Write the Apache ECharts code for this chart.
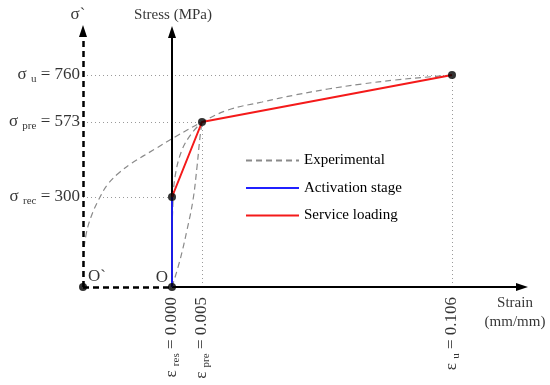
<!DOCTYPE html>
<html><head><meta charset="utf-8">
<script src="https://cdn.jsdelivr.net/npm/echarts@6/dist/echarts.min.js"></script>
<style>html,body{margin:0;padding:0;background:#fff}#c{width:550px;height:385px}</style>
</head><body><div id="c"></div>
<script>
// Schematic diagram: values are drawn at schematic positions (not to scale)
const stressSubs = ['u', 'pre', 'rec'];
const stressValues = [760, 573, 300];
const stressLevels = [212, 165, 90];      // schematic heights on the diagram
const strainSubs = ['res', 'pre', 'u'];
const strainValues = ['0.000', '0.005', '0.106'];
const strainLevels = [0, 30, 280];        // schematic positions along strain axis
const originPrimeX = -89;                 // O` (shifted origin)

// Activation stage (blue): O -> σrec
const activationX = [0, 0];
const activationY = [0, 90];
// Service loading (red): σrec -> σpre -> σu
const serviceX = [0, 30, 280];
const serviceY = [90, 165, 212];
// Experimental curves (grey dashed)
const expMonoX = [-89, -88.5, -86, -81, -73, -64, -52, -40, -17, 3, 30, 56, 90, 123, 156, 190, 223, 256, 280];
const expMonoY = [0, 30, 52, 70, 88, 103, 115, 124, 138, 150, 165, 177, 185, 192, 198, 203, 207, 210, 212];
const expReloadX = [0, 8, 15, 21, 25, 28, 30];
const expReloadY = [0, 27, 57, 87, 120, 150, 165];
const expLoadX = [0, 0, 0.8, 3, 10, 20, 30];
const expLoadY = [0, 40, 80, 110, 137, 154, 165];

const FONT = 'Liberation Serif';
const zip = (xs, ys) => xs.map((x, i) => [x, ys[i]]);
const rich = {
  g: { fontFamily: FONT, fontSize: 17, color: '#000', lineHeight: 20 },
  sub: { fontFamily: FONT, fontSize: 11, color: '#000', lineHeight: 15, verticalAlign: 'bottom' }
};
const baseLabel = { show: true, position: 'inside', fontFamily: FONT, color: '#000', rich: rich };

const labelData = [];
stressValues.forEach((v, i) => {
  labelData.push({ value: [originPrimeX - 3, stressLevels[i]],
    label: Object.assign({}, baseLabel, { align: 'right', verticalAlign: 'middle',
      formatter: '{g|σ }{sub|' + stressSubs[i] + '}{g| = ' + v + '}' }) });
});
strainValues.forEach((v, i) => {
  labelData.push({ value: [strainLevels[i], -10],
    label: Object.assign({}, baseLabel, { align: 'right', verticalAlign: 'middle', rotate: 90,
      formatter: '{g|ε }{sub|' + strainSubs[i] + '}{g| = ' + v + '}' }) });
});
const plain = (x, y, txt, align, size) => ({ value: [x, y],
  label: Object.assign({}, baseLabel, { align: align, verticalAlign: 'middle', fontSize: size, formatter: txt }) });
labelData.push(plain(originPrimeX - 5, 272, 'σ`', 'center', 17));
labelData.push(plain(1, 272, 'Stress (MPa)', 'center', 15));
labelData.push(plain(originPrimeX + 5, 10, 'O`', 'left', 17));
labelData.push(plain(-4, 9, 'O', 'right', 17));
labelData.push(plain(343, -16, 'Strain', 'center', 15));
labelData.push(plain(343, -35, '(mm/mm)', 'center', 15));

const guides = [];
stressLevels.forEach((lv, i) => {
  const px = serviceX[serviceY.indexOf(lv)];
  guides.push([{ coord: [originPrimeX, lv] }, { coord: [px, lv] }]);
});
strainLevels.forEach((sx, i) => {
  if (sx === 0) return;
  const py = serviceY[serviceX.indexOf(sx)];
  guides.push([{ coord: [sx, 0] }, { coord: [sx, py] }]);
});

const expStyle = { color: '#8a8a8a', width: 1.2, type: [6, 4] };
const option = {
  animation: false,
  grid: { left: 0, right: 0, top: 0, bottom: 0 },
  xAxis: { type: 'value', min: -172, max: 378, show: false },
  yAxis: { type: 'value', min: -98, max: 287, show: false },
  legend: {
    orient: 'vertical', left: 240, top: 148, itemWidth: 53, itemHeight: 14, itemGap: 12.5,
    data: ['Experimental', 'Activation stage', 'Service loading'],
    itemStyle: { opacity: 0 },
    textStyle: { fontFamily: FONT, fontSize: 15, color: '#000' }
  },
  series: [
    { type: 'line', name: 'guides', data: [[0, 0]], symbol: 'none', silent: true, lineStyle: { width: 0 }, z: 1,
      markLine: { silent: true, symbol: ['none', 'none'], label: { show: false },
        lineStyle: { color: '#9a9a9a', width: 1, type: [1, 3] }, data: guides } },
    { type: 'line', name: 'axes', data: [[0, 0]], symbol: 'none', silent: true, lineStyle: { width: 0 }, z: 1,
      markLine: { silent: true, symbol: ['none', 'triangle'], symbolSize: [8, 12], label: { show: false },
        lineStyle: { color: '#000', width: 2, type: 'solid' },
        data: [
          [{ coord: [0, 0] }, { coord: [0, 255] }],
          [{ coord: [0, 0] }, { coord: [350, 0] }],
          [{ coord: [originPrimeX, 0], lineStyle: { type: [6, 4], width: 2.5 } }, { coord: [originPrimeX, 256] }],
          [{ coord: [originPrimeX, 0], symbol: 'none', lineStyle: { type: [6, 4], width: 2.5 } }, { coord: [0, 0], symbol: 'none' }]
        ] } },
    { type: 'line', name: 'Experimental', data: zip(expMonoX, expMonoY), smooth: 0.4, symbol: 'none', lineStyle: expStyle, itemStyle: { color: '#8a8a8a' }, z: 3 },
    { type: 'line', name: 'Experimental', data: zip(expReloadX, expReloadY), smooth: 0.4, symbol: 'none', lineStyle: expStyle, itemStyle: { color: '#8a8a8a' }, z: 3 },
    { type: 'line', name: 'Experimental', data: zip(expLoadX, expLoadY), smooth: 0.4, symbol: 'none', lineStyle: expStyle, itemStyle: { color: '#8a8a8a' }, z: 3 },
    { type: 'line', name: 'Activation stage', data: zip(activationX, activationY), symbol: 'none', lineStyle: { color: '#2020ff', width: 1.8 }, itemStyle: { color: '#2020ff' }, z: 10 },
    { type: 'line', name: 'Service loading', data: zip(serviceX, serviceY), symbol: 'none', lineStyle: { color: '#f41a1a', width: 2 }, itemStyle: { color: '#f41a1a' }, z: 10 },
    { type: 'scatter', name: 'points', symbolSize: 8, itemStyle: { color: '#000' }, silent: true, z: 12,
      data: [[0, 0], [originPrimeX, 0], [serviceX[0], serviceY[0]], [serviceX[1], serviceY[1]], [serviceX[2], serviceY[2]]] },
    { type: 'scatter', name: 'labels', symbolSize: 0, silent: true, z: 12, data: labelData }
  ]
};
echarts.init(document.getElementById('c')).setOption(option);
</script></body></html>
